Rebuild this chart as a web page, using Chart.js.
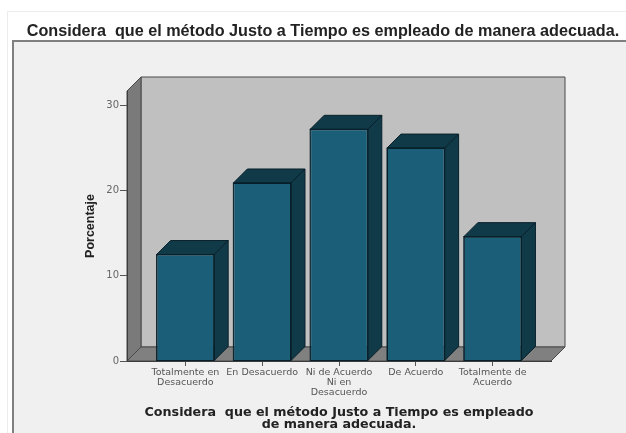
<!DOCTYPE html>
<html><head><meta charset="utf-8">
<style>html,body{margin:0;padding:0;background:#fff}canvas{display:block;filter:blur(0.45px)}</style>
<script src="https://cdn.jsdelivr.net/npm/chart.js@4"></script></head>
<body><div style="width:626px;height:433px"><canvas id="c" width="626" height="433"></canvas></div>
<script>
const chartTitle = 'Considera  que el método Justo a Tiempo es empleado de manera adecuada.';
const axisTitleLines = ['Considera  que el método Justo a Tiempo es empleado', 'de manera adecuada.'];
const yTitle = 'Porcentaje';
const categories = [
  ['Totalmente en', 'Desacuerdo'],
  ['En Desacuerdo'],
  ['Ni de Acuerdo', 'Ni en', 'Desacuerdo'],
  ['De Acuerdo'],
  ['Totalmente de', 'Acuerdo']
];
const positions = [1, 2, 3, 4, 5];
const values = [12.5, 20.9, 27.2, 25.0, 14.6];
const yTicks = [0, 10, 20, 30];

const DEPTH = 14;
const scene = {
  id: 'scene',
  afterLayout(c) { c.titleBlock.left = 20; c.titleBlock.right = 626; },
  beforeDraw(c) {
    const g = c.ctx, a = c.chartArea, d = DEPTH;
    g.save();
    g.fillStyle = '#fff'; g.fillRect(0, 0, c.width, c.height);
    g.strokeStyle = '#ececec'; g.lineWidth = 1;
    g.beginPath(); g.moveTo(7.5, 433); g.lineTo(7.5, 11.5); g.lineTo(626, 11.5); g.stroke();
    g.fillStyle = '#f0f0f0'; g.fillRect(13, 41, 613, 392);
    g.strokeStyle = '#808080'; g.lineWidth = 2;
    g.beginPath(); g.moveTo(13, 433); g.lineTo(13, 41); g.lineTo(626, 41); g.stroke();
    g.lineWidth = 1; g.strokeStyle = '#4a4a4a';
    const poly = (pts, fill) => {
      g.beginPath(); pts.forEach((p, i) => i ? g.lineTo(p[0], p[1]) : g.moveTo(p[0], p[1]));
      g.closePath(); g.fillStyle = fill; g.fill(); g.stroke();
    };
    poly([[a.left + d, a.top - d], [a.right + d, a.top - d], [a.right + d, a.bottom - d], [a.left + d, a.bottom - d]], '#c0c0c0');
    poly([[a.left, a.top], [a.left + d, a.top - d], [a.left + d, a.bottom - d], [a.left, a.bottom]], '#7a7a7a');
    poly([[a.left, a.bottom], [a.left + d, a.bottom - d], [a.right + d, a.bottom - d], [a.right, a.bottom]], '#808080');
    g.restore();
  },
  afterDatasetsDraw(c) {
    const g = c.ctx, d = DEPTH;
    g.save(); g.lineWidth = 1; g.strokeStyle = '#08202a'; g.fillStyle = '#113a49';
    c.getDatasetMeta(0).data.forEach(b => {
      const l = b.x - b.width / 2, r = b.x + b.width / 2, t = b.y, u = b.base;
      g.beginPath(); g.moveTo(l, t); g.lineTo(l + d, t - d); g.lineTo(r + d, t - d); g.lineTo(r, t); g.closePath(); g.fill(); g.stroke();
      g.beginPath(); g.moveTo(r, t); g.lineTo(r + d, t - d); g.lineTo(r + d, u - d); g.lineTo(r, u); g.closePath(); g.fill(); g.stroke();
      g.strokeRect(l, t, r - l, u - t);
    });
    g.restore();
  }
};
new Chart(document.getElementById('c'), {
  type: 'bar',
  data: { datasets: [{
    data: positions.map((x, i) => ({ x, y: values[i] })),
    backgroundColor: '#1b5e78', borderColor: '#08202a', borderWidth: 1,
    categoryPercentage: 1, barPercentage: 0.75
  }] },
  plugins: [scene],
  options: {
    responsive: false, animation: false,
    layout: { padding: { left: 0, right: 75, top: 0, bottom: 0 } },
    plugins: {
      legend: { display: false }, tooltip: { enabled: false },
      title: { display: true, text: chartTitle, color: '#222',
        font: { family: 'Liberation Sans', size: 16.2, weight: 'bold', lineHeight: 1 },
        padding: { top: 23, bottom: 51.8 } }
    },
    scales: {
      x: { type: 'linear', min: 0.24, max: 5.76, offset: false,
        afterFit(s) { s.height = 72; },
        afterBuildTicks(s) { s.ticks = positions.map(value => ({ value })); },
        border: { color: '#3c3c3c' },
        grid: { offset: false, drawOnChartArea: false, tickLength: 5, tickColor: '#555' },
        ticks: { autoSkip: false, maxRotation: 0, minRotation: 0, padding: 2, color: '#555',
          font: { family: 'DejaVu Sans', size: 9.5, lineHeight: 1.02 },
          callback: v => categories[positions.indexOf(v)] },
        title: { display: true, text: axisTitleLines, color: '#222',
          font: { family: 'DejaVu Sans', size: 12.7, weight: 'bold', lineHeight: 0.95 }, padding: { top: 0, bottom: 2 } } },
      y: { min: 0, max: 31.7,
        afterFit(s) { s.width = 127; },
        afterBuildTicks(s) { s.ticks = yTicks.map(value => ({ value })); },
        border: { color: '#3c3c3c' },
        grid: { drawOnChartArea: false, tickLength: 7, tickColor: '#555' },
        ticks: { padding: 1, color: '#666', font: { family: 'DejaVu Sans', size: 10 } },
        title: { display: true, text: yTitle, color: '#222',
          font: { family: 'Liberation Sans', size: 12.5, weight: 'bold' }, padding: { top: 83, bottom: 0 } } }
    }
  }
});
</script></body></html>
